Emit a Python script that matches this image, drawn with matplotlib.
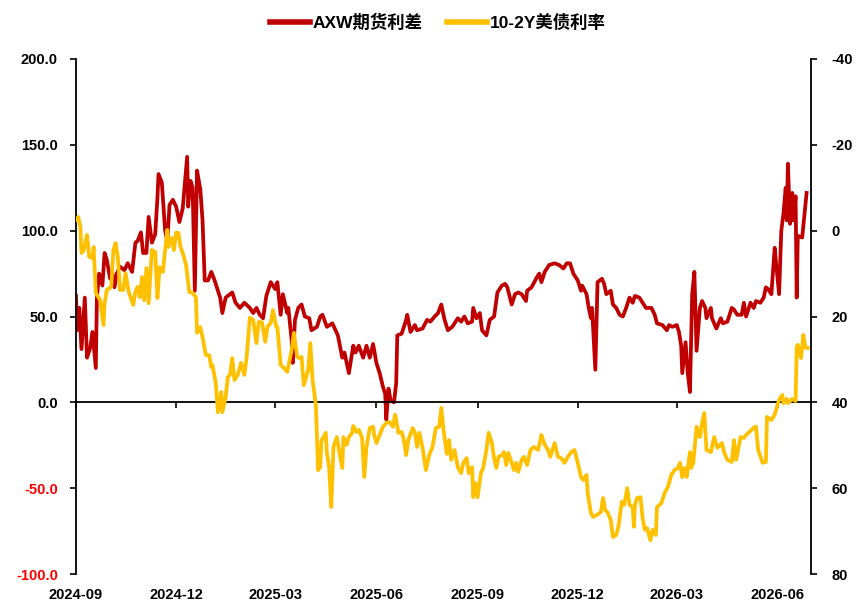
import matplotlib
matplotlib.use("Agg")
import matplotlib.pyplot as plt
import matplotlib.dates as mdates
from matplotlib.ticker import FormatStrFormatter
import pandas as pd

# AXW futures spread (left axis)
spread_dates = [
    "2024-09-01", "2024-09-02", "2024-09-04", "2024-09-06", "2024-09-09", "2024-09-11", "2024-09-14",
    "2024-09-16", "2024-09-19", "2024-09-20", "2024-09-22", "2024-09-25", "2024-09-27", "2024-09-29",
    "2024-10-02", "2024-10-04", "2024-10-06", "2024-10-08", "2024-10-11", "2024-10-15", "2024-10-18",
    "2024-10-22", "2024-10-25", "2024-10-27", "2024-10-30", "2024-11-01", "2024-11-04", "2024-11-06",
    "2024-11-09", "2024-11-12", "2024-11-14", "2024-11-15", "2024-11-18", "2024-11-21", "2024-11-23",
    "2024-11-25", "2024-11-28", "2024-12-01", "2024-12-04", "2024-12-07", "2024-12-11", "2024-12-12",
    "2024-12-14", "2024-12-16", "2024-12-18", "2024-12-20", "2024-12-23", "2024-12-25", "2024-12-27",
    "2024-12-30", "2025-01-02", "2025-01-05", "2025-01-10", "2025-01-12", "2025-01-15", "2025-01-21",
    "2025-01-24", "2025-01-28", "2025-02-01", "2025-02-06", "2025-02-09", "2025-02-12", "2025-02-15",
    "2025-02-18", "2025-02-21", "2025-02-25", "2025-03-01", "2025-03-03", "2025-03-06", "2025-03-08",
    "2025-03-12", "2025-03-13", "2025-03-16", "2025-03-17", "2025-03-19", "2025-03-22", "2025-03-25",
    "2025-03-28", "2025-04-01", "2025-04-03", "2025-04-08", "2025-04-11", "2025-04-13", "2025-04-17",
    "2025-04-22", "2025-04-27", "2025-05-01", "2025-05-03", "2025-05-07", "2025-05-11", "2025-05-13",
    "2025-05-16", "2025-05-20", "2025-05-23", "2025-05-26", "2025-05-29", "2025-06-01", "2025-06-04",
    "2025-06-07", "2025-06-09", "2025-06-10", "2025-06-12", "2025-06-14", "2025-06-17", "2025-06-19",
    "2025-06-20", "2025-06-24", "2025-06-28", "2025-06-29", "2025-07-02", "2025-07-06", "2025-07-08",
    "2025-07-13", "2025-07-17", "2025-07-20", "2025-07-24", "2025-07-27", "2025-07-30", "2025-08-02",
    "2025-08-05", "2025-08-09", "2025-08-14", "2025-08-17", "2025-08-20", "2025-08-23", "2025-08-27",
    "2025-08-28", "2025-08-31", "2025-09-03", "2025-09-05", "2025-09-09", "2025-09-12", "2025-09-16",
    "2025-09-19", "2025-09-23", "2025-09-26", "2025-09-28", "2025-10-02", "2025-10-05", "2025-10-08",
    "2025-10-11", "2025-10-15", "2025-10-16", "2025-10-20", "2025-10-25", "2025-10-27", "2025-10-29",
    "2025-11-01", "2025-11-05", "2025-11-10", "2025-11-14", "2025-11-18", "2025-11-21", "2025-11-24",
    "2025-11-27", "2025-12-01", "2025-12-04", "2025-12-05", "2025-12-09", "2025-12-11", "2025-12-13",
    "2025-12-14", "2025-12-17", "2025-12-19", "2025-12-23", "2025-12-25", "2025-12-27", "2025-12-31",
    "2026-01-02", "2026-01-05", "2026-01-08", "2026-01-11", "2026-01-14", "2026-01-17", "2026-01-20",
    "2026-01-22", "2026-01-26", "2026-01-29", "2026-02-01", "2026-02-06", "2026-02-09", "2026-02-11",
    "2026-02-16", "2026-02-20", "2026-02-22", "2026-02-25", "2026-03-01", "2026-03-03", "2026-03-05",
    "2026-03-06", "2026-03-09", "2026-03-11", "2026-03-13", "2026-03-15", "2026-03-17", "2026-03-19",
    "2026-03-22", "2026-03-24", "2026-03-27", "2026-03-28", "2026-04-01", "2026-04-02", "2026-04-06",
    "2026-04-10", "2026-04-12", "2026-04-16", "2026-04-20", "2026-04-22", "2026-04-25", "2026-04-29",
    "2026-05-01", "2026-05-03", "2026-05-07", "2026-05-10", "2026-05-12", "2026-05-16", "2026-05-19",
    "2026-05-21", "2026-05-23", "2026-05-26", "2026-05-29", "2026-05-30", "2026-06-02", "2026-06-04",
    "2026-06-06", "2026-06-08", "2026-06-09", "2026-06-10", "2026-06-12", "2026-06-14", "2026-06-15",
    "2026-06-17", "2026-06-18", "2026-06-19", "2026-06-23", "2026-06-27",
]
spread_vals = [
    62, 42, 55, 31, 61, 26, 32, 41, 20, 61, 75, 68, 87, 83,
    72, 75, 67, 75, 79, 77, 81, 76, 93, 94, 99, 87, 87, 108,
    93, 98, 119, 133, 128, 100, 94, 115, 118, 114, 105, 113, 143, 114,
    129, 125, 65, 135, 124, 106, 71, 71, 76, 71, 61, 52, 61, 64,
    58, 55, 58, 55, 52, 55, 51, 49, 62, 70, 66, 70, 51, 63,
    52, 55, 36, 23, 48, 55, 57, 50, 49, 42, 44, 50, 51, 44,
    46, 39, 26, 29, 17, 33, 29, 33, 26, 33, 26, 34, 23, 17,
    9, 5, -10, 8, 1, 0, 11, 39, 40, 48, 51, 41, 45, 42,
    43, 48, 47, 50, 52, 57, 48, 42, 44, 49, 47, 50, 46, 47,
    55, 49, 52, 42, 39, 48, 50, 64, 68, 69, 67, 57, 63, 64,
    63, 59, 65, 67, 73, 75, 70, 76, 80, 81, 80, 78, 81, 81,
    75, 71, 65, 68, 63, 55, 49, 55, 19, 70, 72, 69, 63, 65,
    57, 55, 51, 50, 55, 61, 58, 62, 61, 58, 55, 55, 51, 46,
    45, 42, 45, 44, 45, 41, 33, 17, 35, 17, 6, 63, 76, 30,
    55, 59, 55, 49, 55, 49, 43, 49, 46, 47, 55, 54, 51, 51,
    58, 50, 58, 55, 59, 58, 61, 67, 66, 63, 90, 83, 63, 100,
    110, 125, 106, 139, 104, 122, 106, 120, 61, 97, 96, 122,
]

# 10-2Y UST spread (right axis, inverted)
ust_dates = [
    "2024-09-01", "2024-09-03", "2024-09-05", "2024-09-06", "2024-09-08", "2024-09-11", "2024-09-13",
    "2024-09-16", "2024-09-17", "2024-09-19", "2024-09-23", "2024-09-26", "2024-09-27", "2024-09-29",
    "2024-10-03", "2024-10-05", "2024-10-07", "2024-10-09", "2024-10-11", "2024-10-14", "2024-10-16",
    "2024-10-19", "2024-10-23", "2024-10-25", "2024-10-27", "2024-10-29", "2024-10-31", "2024-11-02",
    "2024-11-04", "2024-11-06", "2024-11-09", "2024-11-12", "2024-11-14", "2024-11-16", "2024-11-19",
    "2024-11-21", "2024-11-23", "2024-11-24", "2024-11-27", "2024-11-29", "2024-12-01", "2024-12-03",
    "2024-12-05", "2024-12-07", "2024-12-10", "2024-12-13", "2024-12-16", "2024-12-19", "2024-12-20",
    "2024-12-23", "2024-12-25", "2024-12-28", "2024-12-31", "2025-01-02", "2025-01-03", "2025-01-06",
    "2025-01-08", "2025-01-11", "2025-01-12", "2025-01-15", "2025-01-17", "2025-01-19", "2025-01-21",
    "2025-01-23", "2025-01-26", "2025-01-29", "2025-02-01", "2025-02-03", "2025-02-06", "2025-02-09",
    "2025-02-12", "2025-02-14", "2025-02-17", "2025-02-20", "2025-02-22", "2025-02-25", "2025-02-27",
    "2025-03-02", "2025-03-03", "2025-03-06", "2025-03-09", "2025-03-12", "2025-03-16", "2025-03-18",
    "2025-03-21", "2025-03-23", "2025-03-25", "2025-03-27", "2025-03-31", "2025-04-02", "2025-04-04",
    "2025-04-07", "2025-04-09", "2025-04-11", "2025-04-12", "2025-04-16", "2025-04-17", "2025-04-19",
    "2025-04-21", "2025-04-23", "2025-04-26", "2025-04-28", "2025-05-01", "2025-05-02", "2025-05-05",
    "2025-05-07", "2025-05-10", "2025-05-11", "2025-05-14", "2025-05-16", "2025-05-19", "2025-05-21",
    "2025-05-23", "2025-05-26", "2025-05-29", "2025-05-30", "2025-06-01", "2025-06-04", "2025-06-07",
    "2025-06-10", "2025-06-13", "2025-06-16", "2025-06-18", "2025-06-19", "2025-06-21", "2025-06-24",
    "2025-06-26", "2025-06-28", "2025-06-30", "2025-07-04", "2025-07-06", "2025-07-08", "2025-07-10",
    "2025-07-13", "2025-07-16", "2025-07-19", "2025-07-22", "2025-07-25", "2025-07-28", "2025-07-30",
    "2025-08-01", "2025-08-04", "2025-08-06", "2025-08-08", "2025-08-11", "2025-08-14", "2025-08-17",
    "2025-08-19", "2025-08-22", "2025-08-24", "2025-08-27", "2025-08-28", "2025-08-30", "2025-09-01",
    "2025-09-04", "2025-09-06", "2025-09-09", "2025-09-11", "2025-09-14", "2025-09-16", "2025-09-18",
    "2025-09-20", "2025-09-23", "2025-09-25", "2025-09-27", "2025-09-29", "2025-10-02", "2025-10-04",
    "2025-10-06", "2025-10-08", "2025-10-11", "2025-10-13", "2025-10-16", "2025-10-19", "2025-10-22",
    "2025-10-26", "2025-10-29", "2025-11-01", "2025-11-04", "2025-11-06", "2025-11-10", "2025-11-13",
    "2025-11-16", "2025-11-19", "2025-11-22", "2025-11-25", "2025-11-28", "2025-12-01", "2025-12-04",
    "2025-12-06", "2025-12-09", "2025-12-10", "2025-12-13", "2025-12-15", "2025-12-18", "2025-12-22",
    "2025-12-24", "2025-12-26", "2025-12-28", "2025-12-31", "2026-01-02", "2026-01-05", "2026-01-07",
    "2026-01-10", "2026-01-12", "2026-01-13", "2026-01-15", "2026-01-17", "2026-01-20", "2026-01-21",
    "2026-01-22", "2026-01-24", "2026-01-27", "2026-01-29", "2026-01-31", "2026-02-02", "2026-02-05",
    "2026-02-07", "2026-02-10", "2026-02-11", "2026-02-15", "2026-02-18", "2026-02-21", "2026-02-24",
    "2026-02-27", "2026-03-02", "2026-03-04", "2026-03-06", "2026-03-08", "2026-03-10", "2026-03-13",
    "2026-03-14", "2026-03-16", "2026-03-19", "2026-03-22", "2026-03-24", "2026-03-26", "2026-03-28",
    "2026-04-01", "2026-04-04", "2026-04-07", "2026-04-11", "2026-04-13", "2026-04-16", "2026-04-20",
    "2026-04-22", "2026-04-24", "2026-04-28", "2026-05-01", "2026-05-03", "2026-05-08", "2026-05-11",
    "2026-05-12", "2026-05-14", "2026-05-18", "2026-05-21", "2026-05-22", "2026-05-26", "2026-05-29",
    "2026-05-31", "2026-06-02", "2026-06-05", "2026-06-06", "2026-06-09", "2026-06-10", "2026-06-14",
    "2026-06-17", "2026-06-18", "2026-06-19", "2026-06-22", "2026-06-24", "2026-06-26", "2026-06-28",
]
ust_vals = [
    -2.5, -3.2, -0.9, 5.2, 4.5, 1.0, 6.1, 6.4, 3.8, 14.5, 16.2, 22.0, 16.9, 13.8,
    13.1, 4.5, 2.9, 6.1, 13.8, 13.8, 9.9, 14.3, 17.3, 14.3, 13.1, 15.5, 10.8, 16.2,
    8.7, 16.9, 4.5, 5.0, 15.7, 8.5, 9.6, 4.5, -0.2, 3.8, 1.7, 4.5, 0.5, 0.5,
    3.8, 5.2, 8.0, 14.3, 14.5, 15.5, 23.8, 22.5, 24.8, 29.0, 29.0, 31.8, 31.3, 35.5,
    42.3, 37.6, 42.3, 38.8, 34.1, 33.6, 29.7, 34.8, 33.6, 30.8, 33.6, 29.7, 20.3, 20.8,
    26.2, 21.3, 21.3, 25.9, 22.4, 21.5, 18.5, 22.4, 22.4, 31.3, 32.0, 32.9, 27.8, 23.8,
    29.4, 29.7, 29.4, 36.0, 32.5, 26.2, 34.8, 40.6, 55.8, 55.1, 49.0, 47.1, 51.8, 55.1,
    64.4, 50.4, 48.1, 51.1, 55.3, 48.1, 49.9, 48.1, 47.1, 45.5, 46.9, 46.4, 48.3, 57.4,
    50.4, 46.0, 45.7, 47.6, 49.5, 47.6, 45.7, 44.8, 44.6, 45.7, 42.9, 44.1, 47.1, 46.9,
    48.8, 52.3, 48.8, 46.0, 47.1, 50.4, 47.1, 50.6, 55.8, 52.3, 50.4, 46.0, 45.7, 41.3,
    46.4, 52.0, 48.8, 53.4, 51.1, 55.1, 56.5, 54.1, 53.0, 56.5, 55.1, 62.1, 58.8, 62.1,
    56.5, 55.3, 51.1, 47.1, 49.5, 53.0, 55.3, 52.7, 52.3, 51.6, 54.6, 51.8, 54.1, 55.8,
    54.1, 56.2, 53.4, 52.7, 54.6, 51.1, 50.4, 51.1, 47.6, 49.9, 51.1, 52.7, 49.5, 52.7,
    53.0, 54.1, 52.7, 51.6, 51.1, 54.1, 57.4, 58.1, 56.9, 61.1, 65.8, 66.7, 66.3, 65.6,
    62.3, 65.1, 65.6, 67.4, 71.4, 70.9, 69.0, 63.2, 63.9, 62.8, 60.0, 63.9, 64.4, 69.0,
    63.9, 62.3, 62.1, 67.0, 69.7, 69.3, 72.1, 69.7, 70.9, 64.4, 63.5, 61.1, 59.7, 56.9,
    55.8, 55.3, 54.1, 57.4, 55.3, 57.4, 51.6, 55.3, 54.1, 45.7, 48.1, 44.8, 42.5, 51.1,
    51.6, 48.1, 50.6, 49.5, 51.6, 53.4, 53.9, 48.8, 53.4, 48.1, 48.3, 47.6, 46.4, 45.7,
    45.7, 51.1, 54.1, 53.9, 43.4, 44.1, 42.9, 41.1, 39.4, 38.3, 40.2, 39.2, 40.2, 39.2,
    39.7, 27.1, 26.6, 29.7, 24.3, 27.3, 27.3,
]

left_ticks = [-100, -50, 0, 50, 100, 150, 200]
right_ticks = [-40, -20, 0, 20, 40, 60, 80]

plt.rcParams['font.family'] = ['Liberation Sans', 'Noto Sans CJK SC']
plt.rcParams['font.weight'] = 'bold'
plt.rcParams['axes.unicode_minus'] = False

red = '#C00000'
yellow = '#FFC000'

fig = plt.figure(figsize=(8.65, 6.13), dpi=100)
ax = fig.add_axes([76 / 865, 1 - 574 / 613, 735 / 865, 515 / 613])
ax2 = ax.twinx()

l1, = ax.plot(pd.to_datetime(spread_dates), spread_vals, color=red, lw=2.7,
              solid_joinstyle='round', label='AXW期货利差')
l2, = ax2.plot(pd.to_datetime(ust_dates), ust_vals, color=yellow, lw=2.7,
               solid_joinstyle='round', label='10-2Y美债利率')

# left axis
ax.set_ylim(-100, 200)
ax.set_yticks(left_ticks)
ax.yaxis.set_major_formatter(FormatStrFormatter('%.1f'))
ax.tick_params(axis='y', direction='out', length=4, width=1.2, pad=9, labelsize=10.5)
for lab, v in zip(ax.get_yticklabels(), left_ticks):
    lab.set_color('red' if v < 0 else 'black')
    lab.set_fontweight('bold')

# right axis (inverted)
ax2.set_ylim(80, -40)
ax2.set_yticks(right_ticks)
ax2.tick_params(axis='y', direction='out', length=4, width=1.2, pad=11, labelsize=10.5)
for lab in ax2.get_yticklabels():
    lab.set_fontweight('bold')

# x axis: line at zero, labels at the bottom
ax.set_xlim(pd.Timestamp('2024-09-01'), pd.Timestamp('2026-07-01'))
ax.xaxis.set_major_locator(mdates.MonthLocator(bymonth=[3, 6, 9, 12]))
ax.xaxis.set_major_formatter(mdates.DateFormatter('%Y-%m'))
ax.spines['bottom'].set_position(('data', 0))
ax.tick_params(axis='x', direction='out', length=4, width=1.2, pad=130, labelsize=10.5)
for lab in ax.get_xticklabels():
    lab.set_fontweight('bold')

for a in (ax, ax2):
    a.spines['top'].set_visible(False)
    for s in a.spines.values():
        s.set_linewidth(1.3)
ax.spines['right'].set_visible(False)
ax2.spines['bottom'].set_visible(False)
ax2.spines['left'].set_visible(False)

fig.legend(handles=[l1, l2], loc='center', bbox_to_anchor=(0.506, 0.964), ncol=2,
           frameon=False, handlelength=2.3, columnspacing=1.4, handletextpad=0.15,
           prop={'family': ['Liberation Sans', 'Noto Sans CJK SC'], 'weight': 'bold', 'size': 12.5})
for h in fig.legends[0].get_lines():
    h.set_linewidth(4)

fig.savefig('out.png', dpi=100)
